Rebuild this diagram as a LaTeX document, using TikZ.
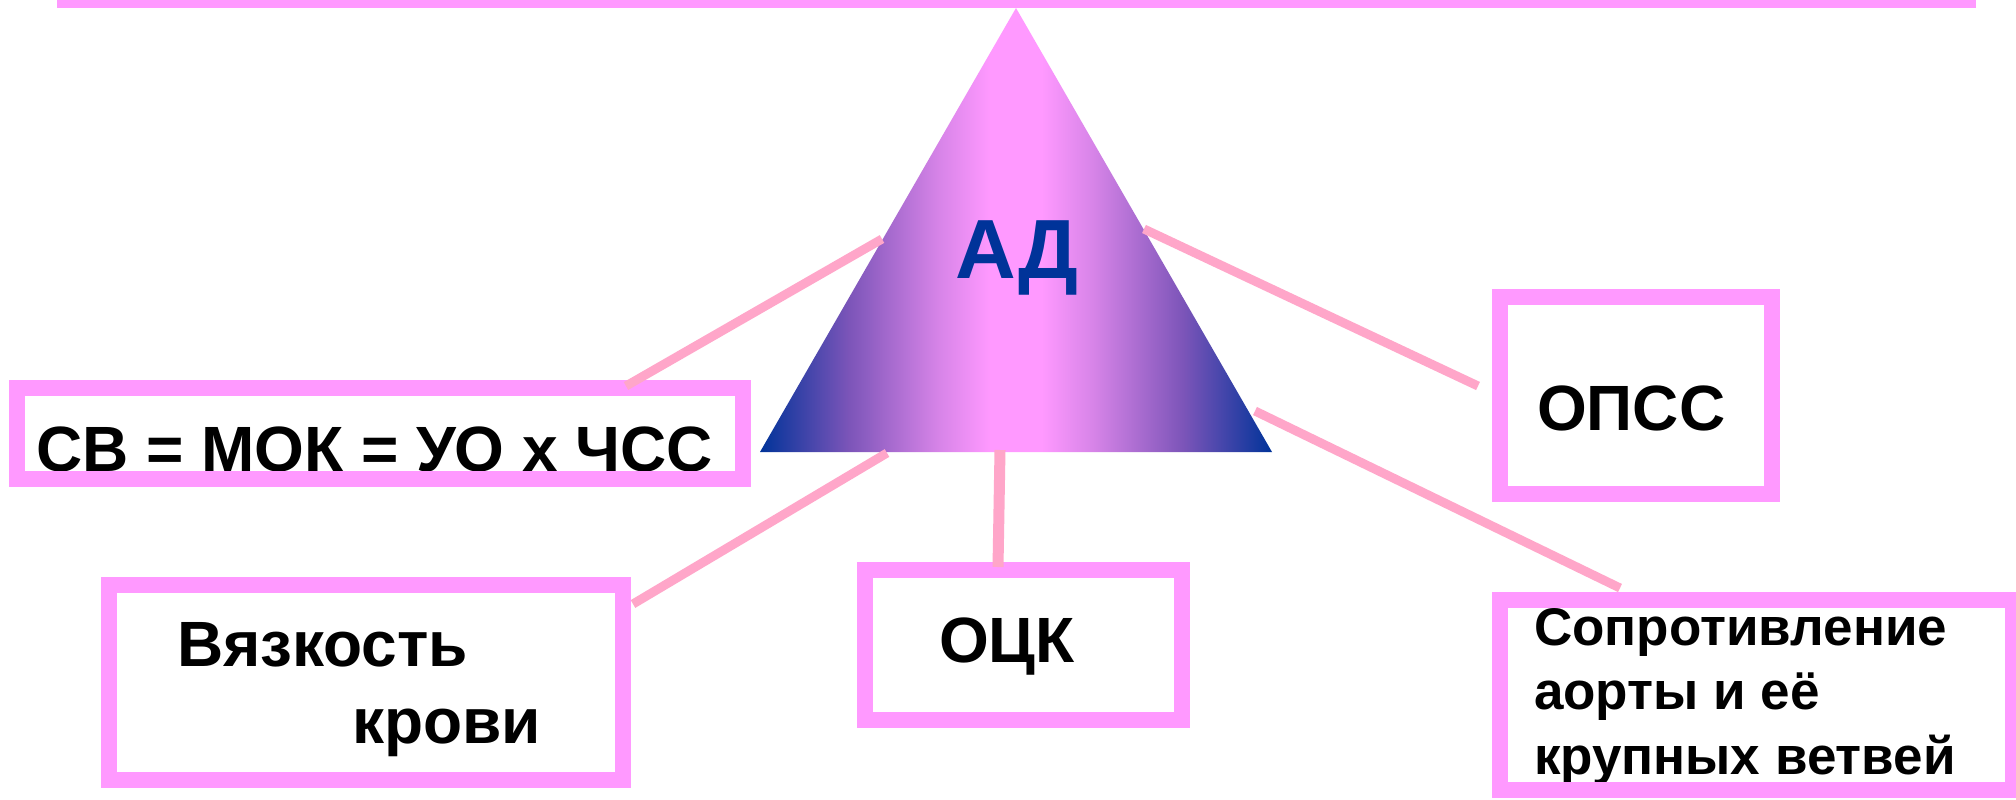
\documentclass[tikz,border=0pt]{standalone}
\usepackage{fontspec}
\setmainfont{Liberation Sans}
\definecolor{boxpink}{HTML}{FF99FF}
\definecolor{linkpink}{HTML}{FFA6C9}
\definecolor{deepblue}{HTML}{003399}
\definecolor{violetmid}{RGB}{125,85,185}
\definecolor{orchidmid}{RGB}{215,132,232}
% blue edges fading into a pink middle; the path spans 25bp..75bp
\pgfdeclarehorizontalshading{pyramid}{100bp}{%
  color(0bp)=(deepblue); color(25bp)=(deepblue);
  color(33.75bp)=(violetmid); color(42.5bp)=(orchidmid);
  color(47.5bp)=(boxpink); color(52.5bp)=(boxpink);
  color(57.5bp)=(orchidmid); color(66.25bp)=(violetmid);
  color(75bp)=(deepblue); color(100bp)=(deepblue)}
\begin{document}
\begin{tikzpicture}[x=1pt,y=-1pt,
  frame/.style={draw=boxpink, line width=16pt, inner sep=0pt, outer sep=0pt},
  caption/.style={anchor=base west, inner sep=0pt, outer sep=0pt,
    font=\fontsize{64}{77}\selectfont\bfseries},
  smallcaption/.style={anchor=base west, inner sep=0pt, outer sep=0pt,
    font=\fontsize{53}{64}\selectfont\bfseries},
  link/.style={draw=linkpink, line width=9pt}]
\useasboundingbox (0,0) rectangle (2016,800);
\fill[white] (0,0) rectangle (2016,800);

% beam on top
\fill[boxpink] (57,0) rectangle (1976,8);

% the pressure triangle
\coordinate (apex) at (1016,8);
\coordinate (baseL) at (760,452);
\coordinate (baseR) at (1272,452);
\shade[shading=pyramid] (apex) -- (baseL) -- (baseR) -- cycle;
\node[anchor=base west, inner sep=0pt, text=deepblue,
  font=\fontsize{84}{100}\selectfont\bfseries] (ad) at (955,278) {АД};

% captions
\node[caption] (tsv) at (36,471) {СВ = МОК = УО х ЧСС};
\node[caption] (tvisc1) at (177,666) {Вязкость};
\node[caption] (tvisc2) at (352,743) {крови};
\node[caption] (tock) at (939,662) {ОЦК};
\node[caption] (topss) at (1537,430) {ОПСС};
\node[smallcaption] (tres1) at (1534,645) {Сопротивление};
\node[smallcaption] (tres2) at (1534,709) {аорты и её};
\node[smallcaption] (tres3) at (1534,774) {крупных ветвей};

% frames
\node[frame, minimum width=726pt, minimum height=91pt] (sv) at (380,433.5) {};
\node[frame, minimum width=514pt, minimum height=195pt] (visc) at (366,682.5) {};
\node[frame, minimum width=317pt, minimum height=150pt] (ock) at (1023.5,645) {};
\node[frame, minimum width=272pt, minimum height=197pt] (opss) at (1636,395.5) {};
\node[frame, minimum width=513pt, minimum height=190pt] (res) at (1756.5,695) {};

% connectors between the triangle and the frames
\coordinate (svEnd) at (626,386);
\coordinate (svTri) at (882,239);
\coordinate (viscEnd) at (633,604);
\coordinate (viscTri) at (887,453);
\coordinate (ockEnd) at (998,567);
\coordinate (ockTri) at (1000,450);
\coordinate (opssTri) at (1144,229);
\coordinate (opssEnd) at (1478,386);
\coordinate (resTri) at (1255,411);
\coordinate (resEnd) at (1620,588);

\draw[link] (svEnd) -- (svTri);
\draw[link] (viscEnd) -- (viscTri);
\draw[link, line width=11pt] (ockEnd) -- (ockTri);
\draw[link] (opssTri) -- (opssEnd);
\draw[link] (resTri) -- (resEnd);
\end{tikzpicture}
\end{document}
